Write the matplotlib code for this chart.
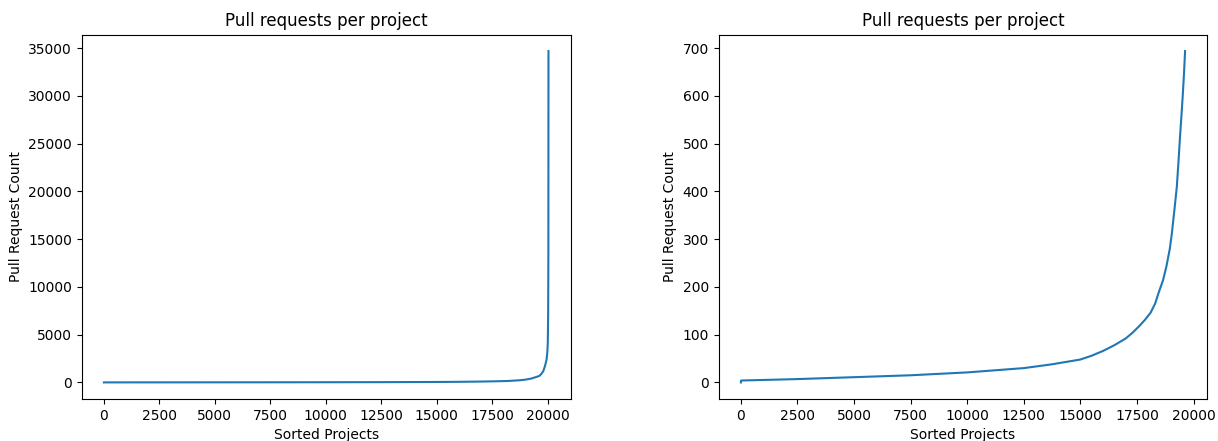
import matplotlib
matplotlib.use("Agg")
import matplotlib.pyplot as plt

# Left: all projects (sorted rank -> pull request count)
all_rank = [0, 10, 2500, 5000, 7500, 10000, 12500, 13750, 15000, 15500, 16000,
            16500, 17000, 17300, 17600, 17850, 18100, 18300, 18450, 18650,
            18800, 18950, 19040, 19150, 19260, 19330, 19400, 19460, 19520,
            19580, 19625, 19710, 19800, 19870, 19940, 19980, 20000, 20015,
            20025, 20030]
all_count = [0, 4, 7, 11, 15, 21, 30, 38, 48, 56, 66,
             78, 92, 104, 118, 131, 146, 165, 187, 214,
             243, 280, 312, 360, 410, 460, 514, 556, 600,
             650, 694, 900, 1200, 1700, 2330, 3200, 4200, 7000,
             13000, 34700]

# Right: projects below the outlier cut
sub_rank = [0, 10, 2500, 5000, 7500, 10000, 12500, 13750, 15000, 15500, 16000,
            16500, 17000, 17300, 17600, 17850, 18100, 18300, 18450, 18650,
            18800, 18950, 19040, 19150, 19260, 19330, 19400, 19460, 19520,
            19580, 19625]
sub_count = [0, 4, 7, 11, 15, 21, 30, 38, 48, 56, 66,
             78, 92, 104, 118, 131, 146, 165, 187, 214,
             243, 280, 312, 360, 410, 460, 514, 556, 600,
             650, 694]

title = "Pull requests per project"
xlabel = "Sorted Projects"
ylabel = "Pull Request Count"

W, H = 1218, 441
fig = plt.figure(figsize=(W / 100, H / 100), dpi=100)
bottom = (H - 399) / H
height = (399 - 34.5) / H
ax1 = fig.add_axes([81.7 / W, bottom, 489 / W, height])
ax2 = fig.add_axes([718.7 / W, bottom, 488.6 / W, height])

for ax, xs, ys in ((ax1, all_rank, all_count), (ax2, sub_rank, sub_count)):
    ax.plot(xs, ys, color="C0", linewidth=1.5)
    ax.set_title(title, fontsize=12)
    ax.set_xlabel(xlabel, fontsize=10)
    ax.set_ylabel(ylabel, fontsize=10)
    ax.set_xticks([0, 2500, 5000, 7500, 10000, 12500, 15000, 17500, 20000])

ax1.set_yticks([0, 5000, 10000, 15000, 20000, 25000, 30000, 35000])
ax2.set_yticks([0, 100, 200, 300, 400, 500, 600, 700])

fig.savefig("out.png", dpi=100)
